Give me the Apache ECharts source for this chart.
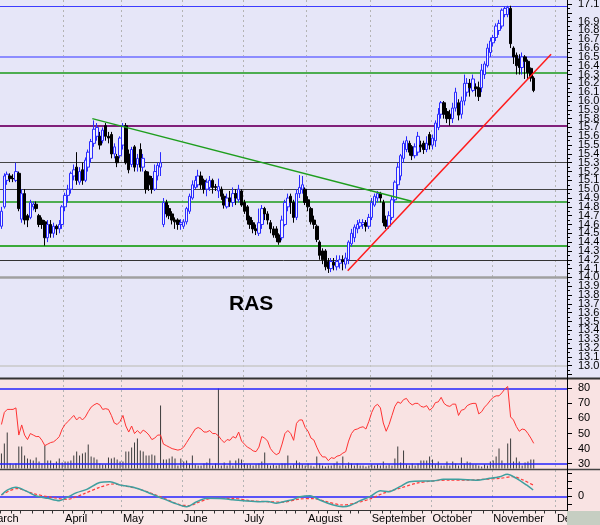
<!DOCTYPE html>
<html><head><meta charset="utf-8">
<script src="https://cdn.jsdelivr.net/npm/echarts@6/dist/echarts.min.js"></script>
<style>html,body{margin:0;padding:0;background:#fff}#c{width:600px;height:525px}</style>
</head><body><div id="c"></div>
<script>
// ---------- data ----------
const monthNames = ['March','April','May','June','July','August','September','October','November','December'];
const monthStartIdx = [0,22,42,63,84,106,128,149,170,192];
const slotCount = 196;

const opens = [14.58,14.80,15.10,15.15,15.12,15.10,15.18,14.66,14.95,14.70, 14.68,14.80,14.83,14.70,14.65,14.63,14.45,14.60,14.50,14.58, 14.55,14.60,14.80,14.93,15.00,15.15,15.25,15.08,15.22,15.10, 15.25,15.35,15.52,15.60,15.60,15.55,15.72,15.60,15.62,15.40, 15.37,15.38,15.50,15.72,15.40,15.28,15.48,15.28,15.45,15.25, 15.20,15.15,15.12,15.00,15.15,15.25,14.60,14.85,14.78,14.72, 14.65,14.65,14.60,14.58,14.63,14.75,14.90,15.02,15.05,15.15, 15.10,15.00,15.02,15.10,15.03,14.98,15.00,14.92,14.80,14.90, 14.85,14.95,14.88,14.98,14.85,14.80,14.68,14.62,14.55,14.50, 14.60,14.78,14.72,14.62,14.55,14.55,14.48,14.45,14.60,14.80, 14.92,14.85,14.68,14.95,15.00,15.00,14.88,14.78,14.65,14.58, 14.40,14.30,14.30,14.18,14.10,14.17,14.12,14.16,14.20,14.15, 14.20,14.38,14.45,14.55,14.58,14.60,14.62,14.58,14.68,14.82, 14.90,14.95,14.85,14.65,14.58,14.68,14.88,15.05,15.15,15.35, 15.45,15.52,15.48,15.38,15.42,15.50,15.52,15.45,15.62,15.50, 15.55,15.70,15.85,15.98,15.88,15.85,15.80,15.92,15.98,15.85, 16.00,16.10,16.20,16.12,16.16,16.15,16.15,16.30,16.40,16.55, 16.66,16.72,16.80,16.85,16.98,16.98,17.05,16.60,16.52,16.48, 16.38,16.50,16.45,16.37,16.26];
const closes = [14.75,15.15,15.17,15.12,15.12,15.20,14.78,14.95,14.65,14.65, 14.85,14.83,14.78,14.60,14.60,14.45,14.60,14.50,14.58,14.55, 14.60,14.80,14.93,15.00,15.18,15.22,15.10,15.20,15.10,15.33, 15.42,15.54,15.68,15.70,15.50,15.67,15.60,15.58,15.40,15.48, 15.30,15.58,15.72,15.30,15.22,15.45,15.25,15.35,15.25,15.35, 15.00,15.05,15.00,15.20,15.27,15.30,14.85,14.72,14.70,14.65, 14.63,14.60,14.62,14.63,14.78,14.92,15.05,15.10,15.15,15.05, 15.00,15.08,15.10,15.02,15.02,15.03,14.92,14.82,14.90,14.86, 14.95,14.90,15.00,14.82,14.75,14.65,14.60,14.55,14.53,14.62, 14.78,14.72,14.65,14.55,14.48,14.45,14.40,14.65,14.85,14.90, 14.85,14.68,14.95,15.02,15.05,14.85,14.80,14.63,14.60,14.43, 14.25,14.20,14.12,14.10,14.18,14.14,14.18,14.20,14.18,14.22, 14.40,14.50,14.57,14.60,14.62,14.62,14.58,14.68,14.85,14.92, 14.95,14.90,14.62,14.58,14.70,14.88,15.08,15.25,15.38,15.52, 15.55,15.42,15.38,15.48,15.60,15.48,15.45,15.52,15.50,15.58, 15.75,15.85,15.98,15.85,15.80,15.80,15.92,16.10,15.84,16.00, 16.20,16.20,16.15,16.25,16.14,16.05,16.35,16.42,16.60,16.68, 16.72,16.85,16.88,17.03,17.05,17.06,16.65,16.50,16.40,16.38, 16.50,16.45,16.32,16.26,16.12];
const lows = [14.55,14.78,15.05,15.08,15.08,15.08,14.75,14.62,14.60,14.57, 14.66,14.76,14.74,14.57,14.55,14.36,14.40,14.45,14.45,14.48, 14.50,14.55,14.75,14.85,14.95,15.10,15.05,15.05,15.05,15.08, 15.20,15.30,15.48,15.55,15.45,15.52,15.55,15.52,15.35,15.35, 15.25,15.35,15.45,15.28,15.18,15.25,15.20,15.20,15.20,15.20, 14.95,14.98,14.95,14.98,15.10,15.15,14.57,14.68,14.66,14.60, 14.55,14.54,14.54,14.55,14.60,14.72,14.88,15.00,15.02,15.00, 14.95,14.92,14.98,14.95,14.98,14.90,14.88,14.78,14.78,14.80, 14.80,14.82,14.85,14.80,14.72,14.60,14.55,14.50,14.48,14.47, 14.55,14.65,14.60,14.50,14.45,14.40,14.37,14.42,14.58,14.75, 14.72,14.62,14.65,14.90,14.95,14.82,14.75,14.60,14.55,14.40, 14.20,14.15,14.08,14.05,14.06,14.08,14.08,14.10,14.08,14.10, 14.15,14.35,14.40,14.50,14.55,14.55,14.52,14.55,14.65,14.80, 14.85,14.85,14.58,14.55,14.55,14.65,14.85,15.00,15.10,15.30, 15.42,15.38,15.33,15.35,15.38,15.42,15.40,15.42,15.45,15.45, 15.48,15.67,15.80,15.80,15.75,15.72,15.75,15.88,15.78,15.80, 15.95,16.05,16.05,16.10,16.05,16.00,16.10,16.25,16.38,16.50, 16.62,16.68,16.75,16.82,16.95,16.95,16.60,16.42,16.30,16.30, 16.30,16.25,16.25,16.22,16.10];
const highs = [14.80,15.18,15.20,15.18,15.17,15.30,15.20,15.00,15.00,14.72, 14.88,14.86,14.86,14.72,14.68,14.65,14.65,14.65,14.62,14.60, 14.65,14.82,14.96,15.05,15.20,15.28,15.42,15.25,15.30,15.36, 15.45,15.57,15.78,15.75,15.65,15.70,15.75,15.65,15.65,15.52, 15.40,15.60,15.75,15.75,15.45,15.48,15.50,15.40,15.52,15.40, 15.22,15.20,15.15,15.28,15.30,15.42,14.90,14.88,14.82,14.75, 14.68,14.67,14.66,14.66,14.80,14.95,15.10,15.15,15.22,15.20, 15.12,15.12,15.15,15.12,15.06,15.12,15.03,14.95,14.95,14.98, 15.02,15.00,15.05,15.00,14.88,14.82,14.70,14.65,14.60,14.78, 14.82,14.80,14.75,14.65,14.58,14.58,14.50,14.70,14.88,14.95, 14.95,14.88,15.00,15.16,15.15,15.02,14.92,14.80,14.70,14.60, 14.42,14.33,14.32,14.22,14.22,14.22,14.25,14.25,14.25,14.28, 14.42,14.55,14.60,14.65,14.66,14.66,14.65,14.72,14.90,14.95, 14.98,14.97,14.88,14.70,14.75,14.92,15.10,15.30,15.40,15.55, 15.60,15.55,15.50,15.52,15.65,15.55,15.55,15.60,15.65,15.62, 15.78,15.92,16.00,16.00,15.92,15.90,15.98,16.15,16.02,16.05, 16.30,16.26,16.25,16.30,16.20,16.22,16.42,16.45,16.65,16.72, 16.75,16.88,16.92,17.05,17.07,17.08,17.08,16.62,16.55,16.53, 16.55,16.52,16.47,16.38,16.28];

const volume = [15,25,36,5,4,5,22,22,13,10, 9,8,11,7,5,23,8,8,5,7, 10,6,7,7,8,13,17,13,15,16, 24,12,11,9,5,4,4,11,10,11, 9,7,7,17,17,21,26,30,18,17, 13,13,14,13,5,63,9,9,10,12, 10,3,10,7,8,5,13,4,3,3, 5,6,10,3,5,80,3,6,3,8, 3,8,10,9,5,4,4,3,4,5, 7,16,4,3,4,3,4,5,5,13, 3,4,8,6,4,3,5,3,2,12, 5,3,2,3,3,5,7,3,12,3, 6,5,3,5,3,3,2,3,4,3, 4,3,7,3,4,3,10,22,6,18, 4,3,5,3,5,8,8,8,12,9, 4,7,3,3,7,3,7,5,3,11, 5,7,6,4,4,3,2,4,3,7, 8,12,20,8,5,25,30,7,11,7, 3,6,7,9,9];

const rsi = [56,64,66,66,66,67,49,55.7,49,46, 50,49,48,48,45.5,42,43,44,44.5,46, 48,53,56,58,60,62,59,61,59,61, 64.5,67.5,69,70,69,66,66.5,66,62,57, 56,58,62,55,51,55,50,52,50,52.3, 51,49,46,47,49,49,43,42,41,40, 39.5,39,39.5,41,44,47,50,53,54,53, 51,51,52,50,50,48.5,46,44,46,45.5, 48,47,51,45,43,41,40,38.5,38,41, 48,47,45,40,37.5,36,37,43,50,52, 50,45.5,56.8,59,59,54,51.5,47,45.7,41, 37,34.5,34.5,32,34,33.5,35,35.5,37,38, 45,50,52.5,53,54,54.5,53,58,64,68, 69.4,67,57,51.5,56,62,68,71,70,72.5, 73.3,70.5,69,70,70,68,67.5,68.5,65.5,67, 70.5,71,74,70,68.5,68,69.5,69.5,62,65.5, 66,68.5,69.5,70,70,63,64.5,67.5,69.5,72, 74,75,75,77,79.5,81.2,61,59,54.6,51.5, 53,52.5,50,47,43.5];

const macdSlot = [0,2,5,9,12,16,20,22.5,26,29.5,34,37.5,41,45.6,50,55,59.4,64,67.5,71,75.5,80,84.8,89.4,92,95,98.6,101,103.2,106.7,110,114.7,118,120.5,124,127.4,131,134,137.7,141,145.7,149.3,152.7,158,164,168.8,172.3,174.8,178,181.5,183.8];
const macdVal = [0.017,0.08,0.117,0.06,0.004,-0.026,-0.057,-0.018,0.047,0.09,0.18,0.19,0.147,0.117,0.06,-0.018,-0.083,-0.135,-0.07,-0.026,-0.03,-0.044,-0.061,-0.07,-0.068,-0.09,-0.06,-0.04,-0.005,0.008,-0.048,-0.113,-0.135,-0.12,-0.057,-0.005,0.073,0.06,0.125,0.19,0.2,0.2,0.22,0.22,0.21,0.233,0.255,0.285,0.233,0.147,0.082];
const signalSlot = [0,5.3,11,16.8,22.5,28.3,34,38.7,43.3,47.9,52.5,57.1,61.7,65.2,68.6,73.2,80,85.9,91.7,97.4,103.2,107.8,112.4,118,122.8,127.4,132,137.7,143.5,149.3,155,160.8,166.6,172.3,177,180.4,183.8];
const signalVal = [0.017,0.1,0.035,-0.01,-0.04,0.03,0.117,0.16,0.13,0.09,0.03,-0.04,-0.11,-0.12,-0.07,-0.026,-0.026,-0.057,-0.07,-0.075,-0.035,-0.03,-0.07,-0.113,-0.083,-0.035,0.04,0.104,0.17,0.2,0.21,0.21,0.22,0.233,0.255,0.21,0.147];

const priceLevels = [17.07,16.5,16.32,15.72,15.3,15.0,14.86,14.36,14.2,14.0,13.0];
const greenTrendSlot = [31.4,141.8];
const greenTrendVal = [15.80,14.863];
const redTrendSlot = [119.7,190.0];
const redTrendVal = [14.076,16.53];
const rsiLevels = [80,30];
const priceAxisMin = 12.9, priceAxisMax = 17.1, priceAxisStep = 0.1;
const rsiAxisMin = 30, rsiAxisMax = 80, rsiAxisStep = 10;
const macdAxisMin = -0.2, macdAxisMax = 0.3, macdAxisStep = 0.1;
const chartTitle = 'RAS';

// ---------- styles ----------
const levelStyles = [
  {color:'#3c3cff',width:1.2},{color:'#8c8cff',width:2},{color:'#1a9a1a',width:1.5},
  {color:'#80207a',width:2},{color:'#444',width:1},{color:'#444',width:1},
  {color:'#1a9a1a',width:1.5},{color:'#3aaa3a',width:2},{color:'#333',width:1},
  {color:'#a0a0a0',width:2.5},{color:'#c8c8c8',width:1.5}];
const FONT = '"Liberation Sans", Arial, sans-serif';

const cats = Array.from({length: slotCount}, (_, i) => i);
const monthStartSet = new Set(monthStartIdx);
const tickSet = new Set();
monthStartIdx.forEach((s, m) => {
  const L = m + 1 < monthStartIdx.length ? monthStartIdx[m + 1] - s : 21;
  for (let k = 1; k <= 5; k++) { const t = s + Math.round(k * L / 6); if (t < slotCount) tickSet.add(t); }
  tickSet.add(s);
});

const candleData = opens.map((o, i) => [o, closes[i], lows[i], highs[i]]);
const pairs = (xs, ys) => xs.map((x, i) => [x + 0.5, ys[i]]);

const R = 33;
const grids = [
  {left:0, right:R, top:4, height:370.4},      // 0 price
  {left:0, right:R, top:388.3, height:75.4},   // 1 rsi
  {left:0, right:R, top:380, height:88.5},     // 2 volume
  {left:0, right:R, top:473.2, height:38.5},   // 3 macd
  {left:0, right:R, top:0, height:510.5}       // 4 background / dates
].map(g => Object.assign({outerBoundsMode:'none', containLabel:false}, g));

const hiddenCat = gi => ({type:'category', gridIndex:gi, data:cats, show:false, boundaryGap:true, axisLine:{show:false, onZero:false}});
const hiddenVal = gi => ({type:'value', gridIndex:gi, min:0, max:slotCount, show:false, axisLine:{show:false, onZero:false}, splitLine:{show:false}});
const axisLbl = {color:'#000', fontSize:11, fontFamily:FONT, margin:11};

const option = {
  animation:false,
  backgroundColor:'#fff',
  textStyle:{fontFamily:FONT},
  grid: grids,
  graphic: [
    {type:'rect', z:-100, shape:{x:0,y:0,width:600,height:378}, style:{fill:'#e6e6f8'}},
    {type:'rect', z:-100, shape:{x:0,y:379,width:600,height:91}, style:{fill:'#f9e3e3'}},
    {type:'rect', z:-100, shape:{x:0,y:470,width:600,height:41}, style:{fill:'#f9e3e3'}},
    {type:'rect', z:-100, shape:{x:0,y:511,width:600,height:14}, style:{fill:'#f8e9e9'}},
    {type:'line', z:50, shape:{x1:0,y1:378.5,x2:600,y2:378.5}, style:{stroke:'#333',lineWidth:2}},
    {type:'line', z:50, shape:{x1:0,y1:469.5,x2:600,y2:469.5}, style:{stroke:'#444',lineWidth:1.5}},
    {type:'line', z:50, shape:{x1:567.5,y1:0,x2:567.5,y2:511}, style:{stroke:'#000',lineWidth:1}},
    {type:'rect', z:100, shape:{x:567,y:511,width:33,height:14}, style:{fill:'#c6cec2'}},
    {type:'text', z:60, x:-12, y:513, style:{text:monthNames[0], font:'11px ' + FONT, fill:'#000'}},
    {type:'text', z:60, x:229, y:294, style:{text:chartTitle, font:'bold 21px ' + FONT, fill:'#000'}}
  ],
  xAxis: [
    hiddenCat(0),            // 0
    hiddenVal(0),            // 1
    hiddenCat(1),            // 2
    hiddenCat(2),            // 3
    hiddenVal(3),            // 4
    {                        // 5 date axis
      type:'category', gridIndex:4, data:cats, boundaryGap:true, position:'bottom',
      axisLine:{show:true, onZero:false, lineStyle:{color:'#333', width:1}},
      axisTick:{show:true, inside:false, length:3, interval:(i)=>tickSet.has(i), lineStyle:{color:'#333'}},
      axisLabel:{show:true, interval:(i)=>monthStartSet.has(i) && i>0, align:'left', margin:3,
        color:'#000', fontSize:11, fontFamily:FONT,
        formatter:(v, i)=>monthNames[monthStartIdx.indexOf(Number(v))] || ''},
      splitLine:{show:true, interval:(i)=>monthStartSet.has(i) && i>0,
        lineStyle:{color:'#b4b4b4', width:1, type:[2,3]}}
    }
  ],
  yAxis: [
    {type:'value', gridIndex:0, position:'right', min:priceAxisMin, max:priceAxisMax, interval:priceAxisStep,
      axisLine:{show:true, onZero:false, lineStyle:{color:'#000'}},
      axisTick:{show:true, inside:false, length:5, lineStyle:{color:'#000'}},
      minorTick:{show:true, splitNumber:2, length:3, lineStyle:{color:'#000'}},
      axisLabel:Object.assign({showMinLabel:false, showMaxLabel:true, formatter:v=>v.toFixed(1)}, axisLbl),
      splitLine:{show:false}},
    {type:'value', gridIndex:1, position:'right', min:rsiAxisMin, max:rsiAxisMax, interval:rsiAxisStep,
      axisLine:{show:true, onZero:false, lineStyle:{color:'#000'}},
      axisTick:{show:true, inside:false, length:5, lineStyle:{color:'#000'}},
      axisLabel:Object.assign({showMinLabel:true, showMaxLabel:true}, axisLbl), splitLine:{show:false}},
    {type:'value', gridIndex:2, min:0, max:88.5, show:false, axisLine:{show:false, onZero:false}, splitLine:{show:false}},
    {type:'value', gridIndex:3, position:'right', min:macdAxisMin, max:macdAxisMax, interval:macdAxisStep,
      axisLine:{show:true, onZero:false, lineStyle:{color:'#000'}},
      axisTick:{show:true, inside:false, length:5, lineStyle:{color:'#000'}},
      axisLabel:Object.assign({formatter:v=>Math.abs(v)<1e-9?'0':''}, axisLbl),
      splitLine:{show:false}},
    {type:'value', gridIndex:4, show:false, axisLine:{show:false, onZero:false}, splitLine:{show:false}}
  ],
  series: [
    {type:'candlestick', xAxisIndex:0, yAxisIndex:0, data:candleData, barWidth:3, z:5,
      itemStyle:{color:'#eeeeff', color0:'#000', borderColor:'#2a2aff', borderColor0:'#000', borderColorDoji:'#000', borderWidth:1},
      markLine:{silent:true, symbol:['none','none'], label:{show:false}, animation:false,
        data: priceLevels.map((v, i) => ({yAxis:v, lineStyle:Object.assign({type:'solid'}, levelStyles[i])}))}},
    {type:'line', xAxisIndex:1, yAxisIndex:0, data:pairs(greenTrendSlot, greenTrendVal), symbol:'none', z:6,
      lineStyle:{color:'#1e9e1e', width:1.5}},
    {type:'line', xAxisIndex:1, yAxisIndex:0, data:pairs(redTrendSlot, redTrendVal), symbol:'none', z:6,
      lineStyle:{color:'#ff1a1a', width:1.5}},
    {type:'bar', xAxisIndex:3, yAxisIndex:2, data:volume, barWidth:1, itemStyle:{color:'#3c3c3c'}, z:3},
    {type:'line', xAxisIndex:2, yAxisIndex:1, data:rsi, symbol:'none', clip:false, z:6,
      lineStyle:{color:'#ff3333', width:1},
      markLine:{silent:true, symbol:['none','none'], label:{show:false}, animation:false,
        data: rsiLevels.map(v => ({yAxis:v, lineStyle:{color:'#2323ff', width:1.5, type:'solid'}}))}},
    {type:'line', xAxisIndex:4, yAxisIndex:3, data:pairs(macdSlot, macdVal), symbol:'none', smooth:0.3, z:6,
      lineStyle:{color:'#3f9f9f', width:1.5},
      markLine:{silent:true, symbol:['none','none'], label:{show:false}, animation:false,
        data:[{yAxis:0, lineStyle:{color:'#2323ff', width:1.5, type:'solid'}}]}},
    {type:'line', xAxisIndex:4, yAxisIndex:3, data:pairs(signalSlot, signalVal), symbol:'none', smooth:0.3, z:5,
      lineStyle:{color:'#ff3a3a', width:1.2, type:[3,2]}}
  ]
};
const chart = echarts.init(document.getElementById('c'), null, {renderer:'canvas'});
chart.setOption(option);
</script></body></html>
